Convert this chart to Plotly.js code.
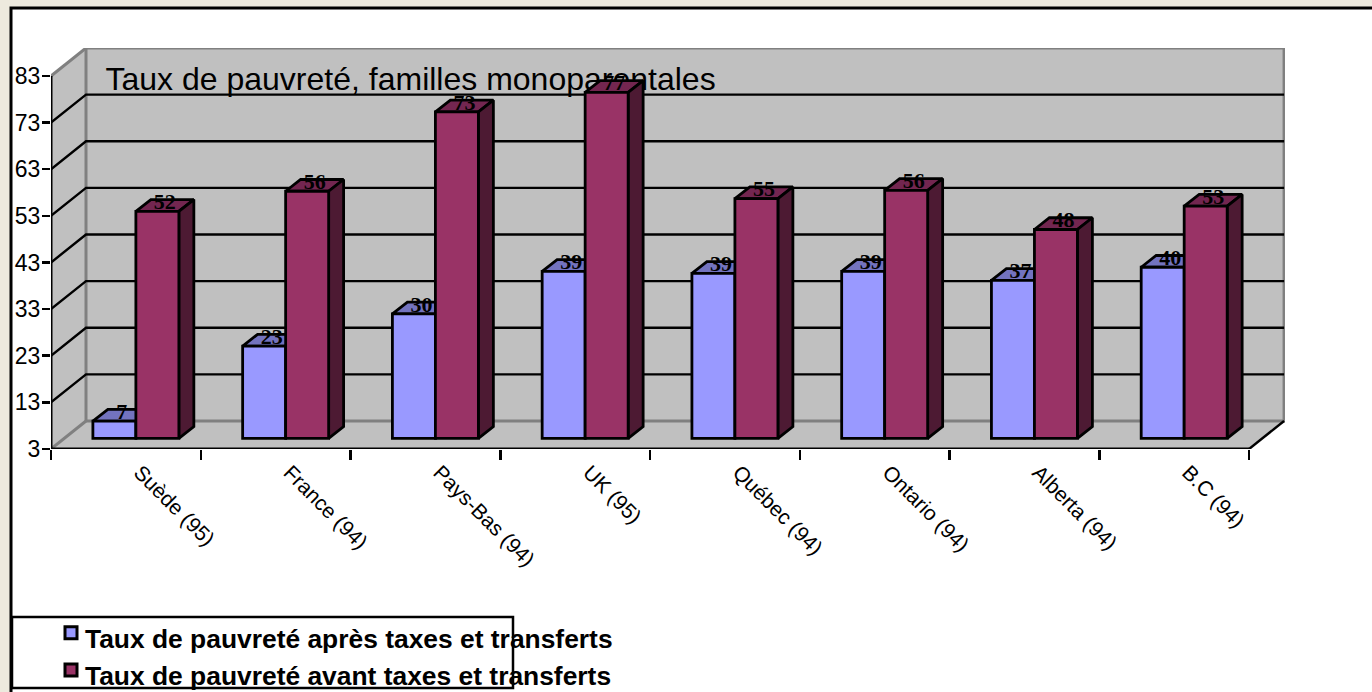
<!DOCTYPE html>
<html>
<head>
<meta charset="utf-8">
<script src="https://cdn.plot.ly/plotly-3.0.1.min.js"></script>
<style>html,body{margin:0;padding:0;background:#edeade;overflow:hidden}#chart{width:1372px;height:692px}
#chart .legend .legendpoints{transform:translate(6px,-5px)}
#chart .legend .legendpoints path{stroke-width:3px !important}
#chart .yaxislayer-above g.ytick{transform:translateX(3px)}</style>
</head>
<body>
<div id="chart"></div>
<script>
const categories = ["Suède (95)", "France (94)", "Pays-Bas (94)", "UK (95)", "Québec (94)", "Ontario (94)", "Alberta (94)", "B.C (94)"];
const seriesNames = ["Taux de pauvreté après taxes et transferts", "Taux de pauvreté avant taxes et transferts"];
const apres = [6.7, 22.8, 29.7, 38.8, 38.4, 38.8, 36.9, 39.7];
const avant = [51.7, 56.0, 73.0, 77.2, 54.4, 56.2, 47.8, 52.8];
const apresLabels = ["7", "23", "30", "39", "39", "39", "37", "40"];
const avantLabels = ["52", "56", "73", "77", "55", "56", "48", "53"];
const yTicks = [3, 13, 23, 33, 43, 53, 63, 73, 83];
const chartTitle = "Taux de pauvreté, familles monoparentales";

const W = 1372, H = 692;
const L = 51, R = 1285, T = 48, B = 449;
const xMin = -0.5, xMax = 7.74, yMin = 3, yMax = 89;
const DX = 0.2337, DY = 6.0;         // full floor depth in data units
const fFront = 0.38, fBack = 0.80;   // bar front / back depth, fraction of floor depth
const barW = 0.2871;

const black = "#000", gray = "#808080", wall = "#c0c0c0";
const cBlue = "#9999ff", cRed = "#993366", cBlueTop = "#7373bf", cRedTop = "#732650", cRedSide = "#4d1a33";
const LW = 2.4, BW = 2.8;

const px = x => (x - L) / (R - L), py = y => (B - y) / (B - T);
const xRight = 7.5;

function poly(xs, ys, fill, lineColor, width, z) {
  return {type: "scatter", mode: "lines", x: xs, y: ys, fill: "toself", fillcolor: fill,
    line: {color: lineColor, width: width}, hoverinfo: "skip", showlegend: false, cliponaxis: false, zorder: z};
}
function line(xs, ys, color, width, z) {
  return {type: "scatter", mode: "lines", x: xs, y: ys, line: {color: color, width: width},
    hoverinfo: "skip", showlegend: false, cliponaxis: false, zorder: z};
}

const traces = [];
// floor, side wall, back wall
traces.push(poly([xMin, xMin + DX, xRight + DX, xRight, xMin], [yMin, yMin + DY, yMin + DY, yMin, yMin], wall, "rgba(0,0,0,0)", 0, 0));
traces.push(poly([xMin, xMin + DX, xMin + DX, xMin, xMin], [yMin, yMin + DY, 83 + DY, 83, yMin], wall, "rgba(0,0,0,0)", 0, 0));
traces.push(poly([xMin + DX, xRight + DX, xRight + DX, xMin + DX, xMin + DX], [yMin + DY, yMin + DY, 83 + DY, 83 + DY, yMin + DY], wall, gray, 3, 0));
traces.push(line([xMin, xMin + DX], [83, 83 + DY], gray, 3, 1));
traces.push(line([xMin, xMin + DX], [yMin, yMin + DY], gray, 3, 1));
// gridlines
yTicks.slice(1, -1).forEach(v => {
  traces.push(line([xMin, xMin + DX, xRight + DX], [v, v + DY, v + DY], black, LW, 1));
});
// floor right edge and axis lines
traces.push(line([xRight, xRight + DX], [yMin, yMin + DY], black, LW, 2));
traces.push(line([xMin, xRight], [yMin, yMin], black, 3, 2));
traces.push(line([xMin, xMin], [yMin, 83], black, 3, 2));

// title beneath the bars
traces.push({type: "scatter", mode: "text", x: [xMin + 0.364], y: [yMin + (B - 82) / ((B - T) / (yMax - yMin))],
  text: [chartTitle], textposition: "middle right", textfont: {family: "Liberation Sans", size: 32, color: "#000"},
  hoverinfo: "skip", showlegend: false, cliponaxis: false, zorder: 3});

// 3D tops and sides of the bars
const fx = 0.0668, fy = DY * fFront, sideX = 0.1, sideY = DY * (fBack - fFront);
function faces(values, offset, topColor, sideColor) {
  values.forEach((v, i) => {
    const x0 = i + offset + fx, x1 = x0 + barW, top = v + fy, base = yMin + fy;
    traces.push(poly([x0, x1, x1 + sideX, x0 + sideX, x0], [top, top, top + sideY, top + sideY, top], topColor, black, BW, 4));
    traces.push(poly([x1, x1 + sideX, x1 + sideX, x1, x1], [base, base + sideY, top + sideY, top, base], sideColor, black, BW, 4));
  });
}
faces(apres, -barW, cBlueTop, cBlueTop);
faces(avant, 0, cRedTop, cRedSide);

// bars
const barX = categories.map((c, i) => i + fx);
function bar(name, values, color, group, offset) {
  return {type: "bar", name: name, x: barX, y: values.map(v => v - yMin), base: yMin + fy, width: barW, offset: offset,
    legendgroup: group,
    marker: {color: color, line: {color: black, width: BW}}, hoverinfo: "skip", cliponaxis: false, zorder: 5};
}
traces.push(bar(seriesNames[0], apres, cBlue, "a", -barW));
traces.push(bar(seriesNames[1], avant, cRed, "b", 0));

// data labels
function labels(values, text, offset) {
  return {type: "scatter", mode: "text", x: values.map((v, i) => i + offset + barW / 2 + fx + sideX / 2),
    y: values.map(v => v + fy + sideY / 2 + 0.4), text: text, textposition: "middle center",
    textfont: {family: "Liberation Serif", size: 22, weight: 700, color: "#000"},
    hoverinfo: "skip", showlegend: false, cliponaxis: false, zorder: 6};
}
traces.push(labels(apres, apresLabels, -barW));
traces.push(labels(avant, avantLabels, 0));

const layout = {
  width: W, height: H,
  margin: {l: L, r: W - R, t: T, b: H - B, pad: 0, autoexpand: false},
  paper_bgcolor: "#edeade", plot_bgcolor: "rgba(0,0,0,0)",
  barmode: "overlay", bargap: 0, bargroupgap: 0,
  showlegend: true,
  font: {family: "Liberation Sans", color: "#000"},
  xaxis: {type: "linear", range: [xMin, xMax], showgrid: false, zeroline: false, showline: false, fixedrange: true,
    tickmode: "array", tickvals: categories.map((c, i) => i + 0.093), ticktext: categories, ticks: "", tickangle: 45,
    ticklabelstandoff: 6, tickfont: {family: "Liberation Sans", size: 21, color: "#000"},
    minor: {tickmode: "array", tickvals: [-0.5, 0.5, 1.5, 2.5, 3.5, 4.5, 5.5, 6.5, 7.5], ticks: "outside", ticklen: 10, tickwidth: 2.5, tickcolor: black, showgrid: false}},
  yaxis: {type: "linear", range: [yMin, yMax], showgrid: false, zeroline: false, showline: false, fixedrange: true,
    tickmode: "array", tickvals: yTicks, ticktext: yTicks.map(String), ticks: "outside", ticklen: 8, tickwidth: 2.5, tickcolor: black,
    tickfont: {family: "Liberation Sans", size: 23, color: "#000"}},
  legend: {x: px(45), y: py(614), xanchor: "left", yanchor: "top", bgcolor: "rgba(0,0,0,0)", borderwidth: 0,
    orientation: "v", traceorder: "normal", tracegroupgap: 0, itemclick: false, itemdoubleclick: false,
    font: {family: "Liberation Sans", size: 26.4, weight: 700, color: "#000"}},
  shapes: [
    {type: "rect", xref: "paper", yref: "paper", x0: px(11), x1: px(1380), y0: py(8), y1: py(700), fillcolor: "#fff", line: {color: black, width: 3}, layer: "below"},
    {type: "rect", xref: "paper", yref: "paper", x0: px(12), x1: px(513), y0: py(617), y1: py(688), fillcolor: "rgba(0,0,0,0)", line: {color: black, width: 2.5}, layer: "above"}
  ]
};
Plotly.newPlot("chart", traces, layout, {displayModeBar: false, staticPlot: true});
</script>
</body>
</html>
